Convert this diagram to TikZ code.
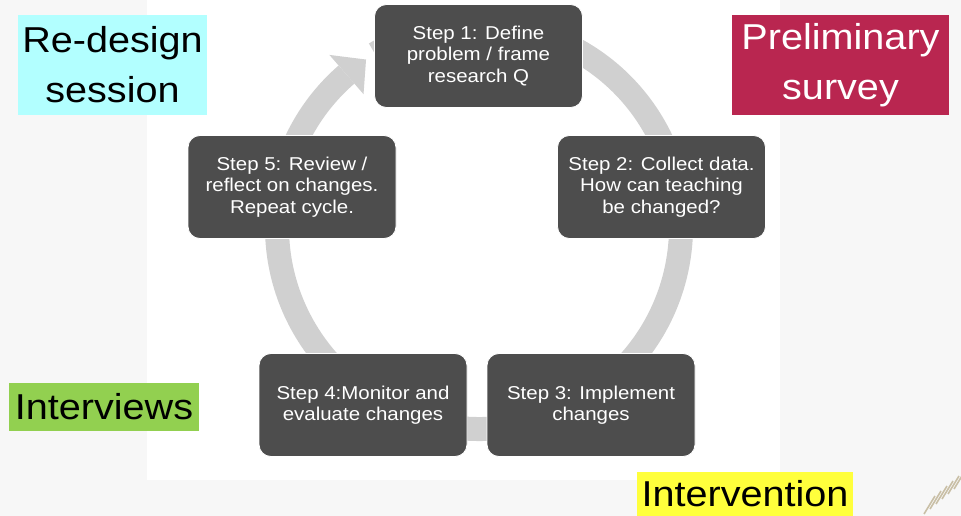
\documentclass[tikz,border=0pt]{standalone}
\usepackage{fontspec}
\setmainfont{Liberation Sans}[FakeStretch=1.1]
\usetikzlibrary{calc}

\definecolor{pagebg}{RGB}{247,247,247}
\definecolor{stepfill}{RGB}{77,77,77}
\definecolor{ringgray}{RGB}{208,208,208}
\definecolor{tagcyan}{RGB}{178,255,255}
\definecolor{tagcrimson}{RGB}{185,38,80}
\definecolor{taggreen}{RGB}{146,208,80}
\definecolor{tagyellow}{RGB}{255,255,60}
\definecolor{tanline}{RGB}{201,191,166}

\tikzset{
  stepbox/.style={rectangle, rounded corners=12, fill=stepfill, draw=white,
    line width=0.8, minimum width=208, minimum height=103, align=center,
    text=white, inner sep=0,
    font=\fontsize{18.6}{21.5}\selectfont},
  tagbox/.style={rectangle, inner sep=0, align=center,
    font=\fontsize{36}{50}\selectfont},
  ring/.style={draw=ringgray, line width=24},
}

\begin{document}
\begin{tikzpicture}[x=1pt,y=-1pt]
  % page and white panel
  \useasboundingbox (0,0) rectangle (961,516);
  \fill[pagebg] (0,0) rectangle (961,516);
  \fill[white] (147,0) rectangle (780,480);

  % cycle ring with arrowhead entering step 1
  \coordinate (ctr) at (479,227);
  \draw[ring] ($(ctr)+(-121:202)$) arc[start angle=-121, end angle=229, radius=202];
  \fill[ringgray] ($(ctr)+(229:228)$) -- ($(ctr)+(236:202)$) -- ($(ctr)+(229:176)$) -- cycle;

  % process steps
  \node[stepbox] (s1) at (478.5,56) {Step 1: Define\\problem / frame\\research Q};
  \node[stepbox] (s2) at (661.5,187) {Step 2: Collect data.\\How can teaching\\be changed?};
  \node[stepbox] (s3) at (591,405) {Step 3: Implement\\changes};
  \node[stepbox] (s4) at (363,405) {Step 4:Monitor and\\evaluate changes};
  \node[stepbox] (s5) at (292,187) {Step 5: Review /\\reflect on changes.\\Repeat cycle.};

  % method tags
  \node[tagbox, fill=tagcyan, minimum width=189, minimum height=100] (redesign) at (112.5,65) {Re-design\\session};
  \node[tagbox, fill=tagcrimson, text=white, minimum width=217, minimum height=100] (prelim) at (840.5,65) {Preliminary\\survey};
  \node[tagbox, fill=taggreen, minimum width=190, minimum height=48] (interv) at (104,407) {Interviews};
  \node[tagbox, fill=tagyellow, minimum width=216, minimum height=44] (interven) at (745,494) {\raisebox{-4pt}{Intervention}};

  % corner ornament
  \begin{scope}
    \clip (0,0) rectangle (961,516);
    \foreach \x/\y in {924/514, 930/509, 936/504, 942/499, 948/494, 954/489}
      \draw[tanline, line width=1.6] (\x,\y) -- ++(11,-18);
  \end{scope}
\end{tikzpicture}
\end{document}
